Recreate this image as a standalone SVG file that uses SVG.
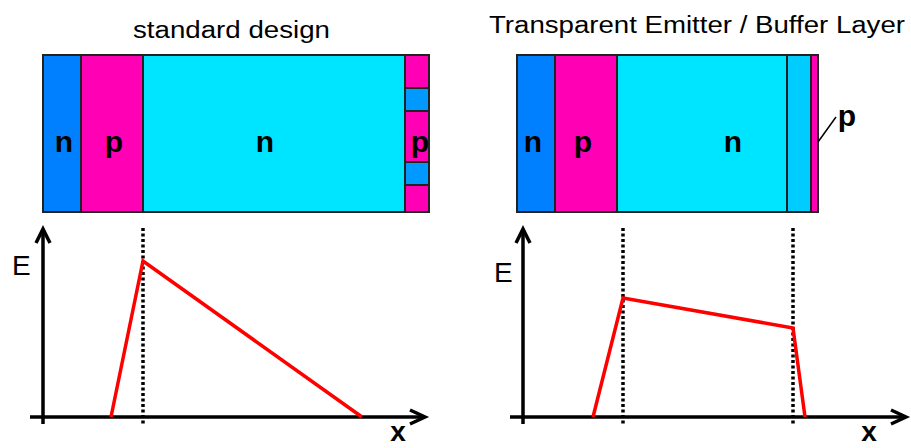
<svg xmlns="http://www.w3.org/2000/svg" width="911" height="448" viewBox="0 0 911 448">
<style>
.lay{stroke:#222;stroke-width:2}
.nb{fill:#0080ff}.pm{fill:#ff00b4}.nc{fill:#00e5ff}.bf{fill:#00ccff}.sq{fill:#0099ff}
.lbl{font-family:"Liberation Sans",Arial,sans-serif;font-weight:bold;font-size:30px;text-anchor:middle;fill:#000}
.xl{font-family:"Liberation Sans",Arial,sans-serif;font-weight:bold;font-size:28px;text-anchor:middle;fill:#000}
.ttl{font-family:"Liberation Sans",Arial,sans-serif;font-size:23px;fill:#000}
.ax{stroke:#000;stroke-width:3.5;fill:none}
.dot{stroke:#000;stroke-width:3.5;stroke-dasharray:3 2.5;fill:none}
.ef{stroke:#ff0000;stroke-width:3.5;fill:none;stroke-linejoin:miter}
.el{font-family:"Liberation Sans",Arial,sans-serif;font-size:28px;fill:#000}
</style>
<text class="ttl" x="133" y="38" textLength="197" lengthAdjust="spacingAndGlyphs">standard design</text>
<text class="ttl" x="489" y="33" textLength="416" lengthAdjust="spacingAndGlyphs">Transparent Emitter / Buffer Layer</text>

<g id="left-device">
<rect class="lay nb" x="43" y="55" width="38" height="157"/>
<rect class="lay pm" x="81" y="55" width="62" height="157"/>
<rect class="lay nc" x="143" y="55" width="262" height="157"/>
<rect class="lay pm" x="405" y="55" width="24" height="157"/>
<rect class="lay sq" x="405" y="88" width="24" height="23"/>
<rect class="lay sq" x="405" y="162" width="24" height="23"/>
<text class="lbl" x="64" y="152">n</text>
<text class="lbl" x="114" y="152">p</text>
<text class="lbl" x="265" y="152">n</text>
<text class="lbl" x="420" y="152">p</text>
</g>

<g id="right-device">
<rect class="lay nb" x="517" y="55" width="38" height="157"/>
<rect class="lay pm" x="555" y="55" width="62" height="157"/>
<rect class="lay nc" x="617" y="55" width="170" height="157"/>
<rect class="lay bf" x="787" y="55" width="24" height="157"/>
<rect class="lay pm" x="811" y="55" width="7" height="157"/>
<text class="lbl" x="533" y="152">n</text>
<text class="lbl" x="583" y="152">p</text>
<text class="lbl" x="733" y="152">n</text>
<text class="lbl" x="847" y="126">p</text>
<line x1="818" y1="142" x2="836" y2="117" stroke="#000" stroke-width="1.5"/>
</g>

<g id="left-plot">
<line class="dot" x1="143" y1="228" x2="143" y2="424"/>
<line class="ax" x1="43" y1="230" x2="43" y2="424"/>
<polyline class="ax" points="36,243 43,229 50,243"/>
<line class="ax" x1="30" y1="417" x2="424" y2="417"/>
<polyline class="ax" points="410,410 425,417 410,424"/>
<polyline class="ef" points="111,417 143,261 362,417"/>
<text class="el" x="12" y="275">E</text>
<text class="xl" x="398" y="441">x</text>
</g>

<g id="right-plot">
<line class="dot" x1="623" y1="228" x2="623" y2="424"/>
<line class="dot" x1="793" y1="228" x2="793" y2="424"/>
<line class="ax" x1="523" y1="230" x2="523" y2="424"/>
<polyline class="ax" points="516,243 523,229 530,243"/>
<line class="ax" x1="510" y1="417" x2="905" y2="417"/>
<polyline class="ax" points="891,410 906,417 891,424"/>
<polyline class="ef" points="593,417 623,298 793,328 805,417"/>
<text class="el" x="494" y="282">E</text>
<text class="xl" x="869" y="441">x</text>
</g>
</svg>
